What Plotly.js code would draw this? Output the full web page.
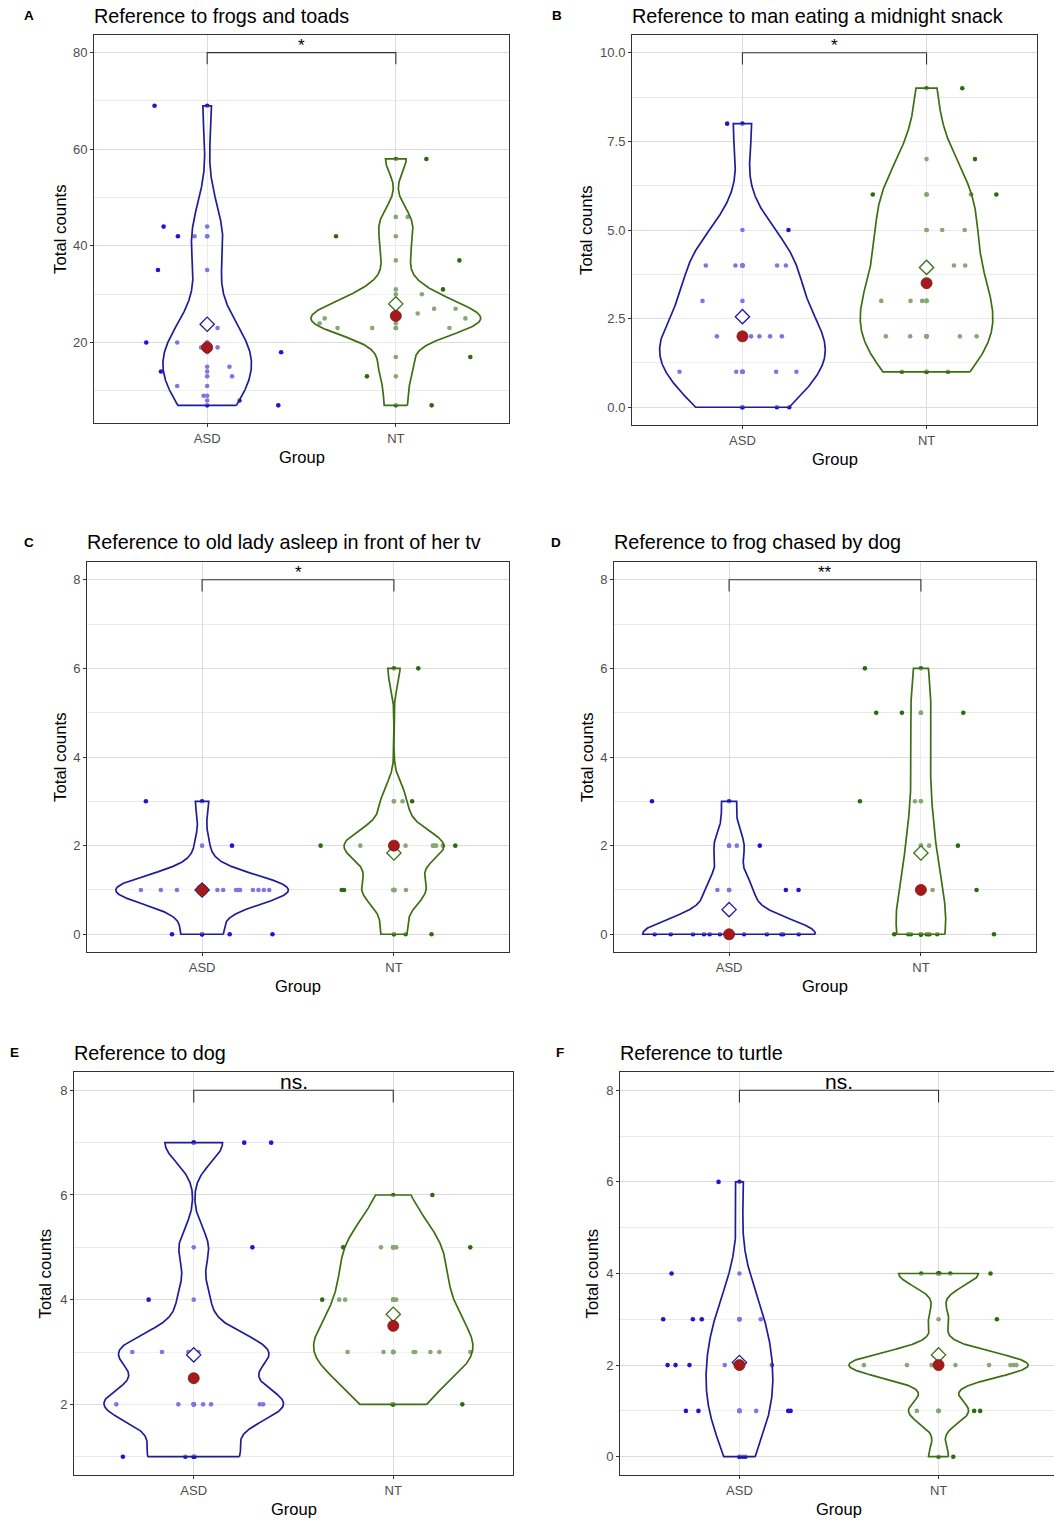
<!DOCTYPE html>
<html>
<head>
<meta charset="utf-8">
<script src="https://cdn.plot.ly/plotly-3.0.1.min.js"></script>
<style>
html,body{margin:0;padding:0;overflow:hidden;background:#ffffff;}
#chart{width:1060px;height:1520px;}
</style>
</head>
<body>
<div id="chart"></div>
<script>
// ---------------- DATA ----------------
const groups = ['ASD', 'NT'];
const panelTags = ['A', 'B', 'C', 'D', 'E', 'F'];
const panelTitles = [
  'Reference to frogs and toads',
  'Reference to man eating a midnight snack',
  'Reference to old lady asleep in front of her tv',
  'Reference to frog chased by dog',
  'Reference to dog',
  'Reference to turtle'
];
const sigLabels = ['*', '*', '*', '**', 'ns.', 'ns.'];
const bracketHeights = [80, 10, 8, 8, 8, 8];
const yTickSteps = [20, 2.5, 2, 2, 2, 2];

// Total counts per participant, and the horizontal jitter of each jittered point
const A_ASD = [69, 44, 42, 42, 35, 23, 20, 20, 19, 19, 18, 15, 14, 13, 11, 9, 8, 7];
const A_ASD_jitter = [-0.279, -0.231, -0.155, -0.067, -0.261, 0.055, -0.323, -0.159, -0.032, 0.055, 0.392, 0.118, -0.245, 0.132, -0.159, -0.019, 0.171, 0.377];
const A_NT = [58, 46, 42, 37, 31, 30, 27, 27, 26, 25, 25, 24, 23, 23, 23, 17, 13, 7];
const A_NT_jitter = [0.162, 0.063, -0.317, 0.337, 0.250, 0.138, 0.203, 0.317, 0.116, -0.377, 0.369, -0.404, -0.309, -0.125, 0.284, 0.395, -0.153, 0.190];

const B_ASD = [8, 5, 4, 4, 4, 4, 3, 2, 2, 2, 2, 2, 1, 1, 1, 1, 0, 0];
const B_ASD_jitter = [-0.083, 0.250, -0.199, -0.038, 0.188, 0.236, -0.217, -0.139, 0.047, 0.092, 0.150, 0.214, -0.342, -0.034, 0.183, 0.293, 0.187, 0.254];
const B_NT = [9, 7, 6, 6, 6, 5, 5, 4, 4, 3, 3, 3, 2, 2, 2, 2, 1, 1];
const B_NT_jitter = [0.194, 0.263, -0.292, 0.241, 0.379, 0.085, 0.207, 0.149, 0.210, -0.246, -0.087, -0.024, -0.221, -0.089, 0.181, 0.272, -0.134, 0.116];

const C_ASD = [3, 2, 1, 1, 1, 1, 1, 1, 1, 1, 1, 1, 1, 1, 1, 0, 0, 0];
const C_ASD_jitter = [-0.293, 0.156, -0.319, -0.215, -0.131, 0.004, 0.080, 0.110, 0.177, 0.188, 0.198, 0.265, 0.294, 0.322, 0.350, -0.157, 0.144, 0.367];
const C_NT = [6, 3, 3, 2, 2, 2, 2, 2, 2, 2, 2, 1, 1, 1, 1, 1, 0, 0];
const C_NT_jitter = [0.127, 0.045, 0.095, -0.382, -0.175, 0.061, 0.203, 0.212, 0.220, 0.255, 0.320, -0.272, -0.260, -0.004, 0.004, 0.063, 0.061, 0.196];

const D_ASD = [3, 2, 2, 1, 1, 1, 0, 0, 0, 0, 0, 0, 0, 0, 0, 0, 0, 0];
const D_ASD_jitter = [-0.402, 0.040, 0.160, -0.061, 0.296, 0.362, -0.388, -0.304, -0.188, -0.131, -0.101, -0.048, 0.003, 0.078, 0.197, 0.273, 0.282, 0.363];
const D_NT = [6, 5, 5, 5, 3, 3, 2, 2, 1, 1, 0, 0, 0, 0, 0, 0, 0, 0];
const D_NT_jitter = [-0.292, -0.233, -0.099, 0.221, -0.318, -0.031, 0.043, 0.193, 0.061, 0.290, -0.139, -0.066, -0.052, 0.030, 0.038, 0.045, 0.085, 0.381];

const E_ASD = [7, 7, 5, 4, 3, 3, 3, 3, 3, 2, 2, 2, 2, 2, 2, 1, 1, 1];
const E_ASD_jitter = [0.253, 0.388, 0.294, -0.226, -0.308, -0.159, -0.027, -0.012, 0.023, -0.388, -0.077, 0.047, 0.087, 0.331, 0.348, -0.355, -0.042, 0.004];
const E_NT = [6, 5, 5, 5, 5, 4, 4, 4, 4, 3, 3, 3, 3, 3, 3, 3, 2, 2];
const E_NT_jitter = [0.196, -0.251, -0.062, 0.015, 0.386, -0.356, -0.271, -0.241, 0.015, -0.229, -0.049, 0.102, 0.110, 0.186, 0.231, 0.386, 0.346, -0.004];

const F_ASD = [6, 4, 3, 3, 3, 3, 2, 2, 2, 2, 2, 1, 1, 1, 1, 1, 0, 0];
const F_ASD_jitter = [-0.105, -0.341, -0.383, -0.234, -0.189, 0.107, -0.361, -0.321, -0.251, -0.074, 0.162, -0.269, -0.206, 0.084, 0.245, 0.257, 0.017, 0.030];
const F_NT = [4, 4, 4, 4, 3, 2, 2, 2, 2, 2, 2, 2, 2, 2, 1, 1, 1, 0];
const F_NT_jitter = [-0.087, 0.004, 0.059, 0.261, 0.293, -0.375, -0.159, -0.035, 0.004, 0.085, 0.254, 0.361, 0.378, 0.391, -0.109, 0.179, 0.209, 0.074];

const panelValues = [[A_ASD, A_NT], [B_ASD, B_NT], [C_ASD, C_NT], [D_ASD, D_NT], [E_ASD, E_NT], [F_ASD, F_NT]];
const panelJitter = [[A_ASD_jitter, A_NT_jitter], [B_ASD_jitter, B_NT_jitter], [C_ASD_jitter, C_NT_jitter],
                     [D_ASD_jitter, D_NT_jitter], [E_ASD_jitter, E_NT_jitter], [F_ASD_jitter, F_NT_jitter]];

// ---------------- STYLE / LAYOUT ----------------
const W = 1060, H = 1520;
const FONT = 'Liberation Sans, Arial, Helvetica, sans-serif';
// plot boxes in px: [left, right, top, bottom]
const boxes = [[94, 509, 35, 423], [632, 1037, 35, 425], [87, 509, 562, 952],
               [614, 1036, 562, 952], [74, 513, 1072, 1475], [620, 1058, 1072, 1475]];
const tagX = [29, 557, 29, 556, 14, 560];
const yTitleX = [60, 587, 60, 587, 45, 592];
const pointColors = ['#2612D2', '#2E6A10'];
const outlineColors = ['#1F1C98', '#3C6E12'];
const medianColor = '#A51B1B';
const majorGrid = '#DCDCDC', minorGrid = '#E9E9E9';

// ---------------- helpers ----------------
function quantile7(s, p) {
  const h = (s.length - 1) * p, lo = Math.floor(h), hi = Math.ceil(h);
  return s[lo] + (h - lo) * (s[hi] - s[lo]);
}
function bwNrd0(x) {
  const n = x.length, m = x.reduce((a, b) => a + b, 0) / n;
  const sd = Math.sqrt(x.reduce((a, b) => a + (b - m) * (b - m), 0) / (n - 1));
  const s = [...x].sort((a, b) => a - b);
  const iqr = quantile7(s, 0.75) - quantile7(s, 0.25);
  let lo = Math.min(sd, iqr / 1.34);
  if (!(lo > 0)) lo = sd || Math.abs(s[0]) || 1;
  return 0.9 * lo * Math.pow(n, -0.2);
}
function kde(x, bw, ys) {
  const c = 1 / (x.length * bw * Math.sqrt(2 * Math.PI));
  return ys.map(y => c * x.reduce((a, xi) => a + Math.exp(-0.5 * Math.pow((y - xi) / bw, 2)), 0));
}
function mean(v) { return v.reduce((a, b) => a + b, 0) / v.length; }
function median(v) { const s = [...v].sort((a, b) => a - b); return quantile7(s, 0.5); }

const traces = [];
const layout = {
  width: W, height: H, margin: {l: 0, r: 0, t: 0, b: 0},
  paper_bgcolor: '#ffffff', plot_bgcolor: '#ffffff',
  showlegend: false, font: {family: FONT, color: '#000000'},
  annotations: [], shapes: []
};

panelValues.forEach((vals, i) => {
  const sfx = i === 0 ? '' : String(i + 1);
  const xa = 'x' + sfx, ya = 'y' + sfx;
  const [L, R, T, B] = boxes[i];
  const allMin = Math.min(...vals.map(v => Math.min(...v)));
  const br = bracketHeights[i];
  const span = br - allMin;
  const yr = [allMin - 0.05 * span, br + 0.05 * span];

  // densities (ggplot2 style: bw.nrd0, trimmed, scale = "area")
  const dens = vals.map(v => {
    const lo = Math.min(...v), hi = Math.max(...v);
    const ys = [];
    for (let k = 0; k < 512; k++) ys.push(lo + (hi - lo) * k / 511);
    return {ys: ys, d: kde(v, bwNrd0(v), ys)};
  });
  const dmax = Math.max(...dens.map(o => Math.max(...o.d)));

  // jittered points
  vals.forEach((v, g) => {
    traces.push({type: 'scatter', mode: 'markers', xaxis: xa, yaxis: ya,
      x: v.map((_, k) => g + 1 + panelJitter[i][g][k]), y: v,
      marker: {size: 4.6, color: pointColors[g], line: {width: 0}},
      hoverinfo: 'skip', showlegend: false, name: groups[g]});
  });
  // same points on the group centre line
  vals.forEach((v, g) => {
    traces.push({type: 'scatter', mode: 'markers', xaxis: xa, yaxis: ya,
      x: v.map(() => g + 1), y: v,
      marker: {size: 4.6, color: pointColors[g], line: {width: 0}},
      hoverinfo: 'skip', showlegend: false, name: groups[g]});
  });
  // violins (semi-transparent white fill over the points)
  dens.forEach((o, g) => {
    const hw = o.d.map(d => 0.45 * d / dmax);
    const xs = hw.map(h => g + 1 + h).concat(hw.slice().reverse().map(h => g + 1 - h));
    const ys = o.ys.concat(o.ys.slice().reverse());
    xs.push(xs[0]); ys.push(ys[0]);
    traces.push({type: 'scatter', mode: 'lines', xaxis: xa, yaxis: ya, x: xs, y: ys,
      fill: 'toself', fillcolor: 'rgba(255,255,255,0.42)',
      line: {color: outlineColors[g], width: 1.7, shape: 'linear'},
      hoverinfo: 'skip', showlegend: false});
  });
  // means (open diamonds)
  vals.forEach((v, g) => {
    traces.push({type: 'scatter', mode: 'markers', xaxis: xa, yaxis: ya,
      x: [g + 1], y: [mean(v)],
      marker: {symbol: 'diamond', size: 11, color: '#ffffff', line: {color: outlineColors[g], width: 1.3}},
      hoverinfo: 'skip', showlegend: false});
  });
  // medians (red dots)
  vals.forEach((v, g) => {
    traces.push({type: 'scatter', mode: 'markers', xaxis: xa, yaxis: ya,
      x: [g + 1], y: [median(v)],
      marker: {symbol: 'circle', size: 11, color: medianColor, line: {color: '#7E1212', width: 0.8}},
      hoverinfo: 'skip', showlegend: false});
  });

  const step = yTickSteps[i];
  layout['xaxis' + sfx] = {
    domain: [L / W, R / W], range: [0.4, 2.6], anchor: ya,
    tickmode: 'array', tickvals: [1, 2], ticktext: groups,
    showgrid: true, gridcolor: majorGrid, gridwidth: 1, zeroline: false,
    showline: true, mirror: true, linecolor: '#333333', linewidth: 1,
    ticks: 'outside', ticklen: 3, tickcolor: '#333333',
    tickfont: {family: FONT, size: 13, color: '#4D4D4D'}, fixedrange: true
  };
  layout['yaxis' + sfx] = {
    domain: [1 - B / H, 1 - T / H], range: yr, anchor: xa,
    tickmode: 'linear', tick0: 0, dtick: step, tickformat: step === 2.5 ? '.1f' : '',
    minor: {tick0: 0, dtick: step / 2, showgrid: true, gridcolor: minorGrid, gridwidth: 1, ticks: ''},
    showgrid: true, gridcolor: majorGrid, gridwidth: 1, zeroline: false,
    showline: true, mirror: true, linecolor: '#333333', linewidth: 1,
    ticks: 'outside', ticklen: 3, tickcolor: '#333333',
    tickfont: {family: FONT, size: 13, color: '#4D4D4D'}, fixedrange: true
  };

  // significance bracket
  const tip = 0.03 * (yr[1] - yr[0]);
  layout.shapes.push({type: 'path', xref: xa, yref: ya,
    path: `M 1,${br - tip} L 1,${br} L 2,${br} L 2,${br - tip}`,
    line: {color: '#333333', width: 1.1}});
  const isNs = sigLabels[i] === 'ns.';
  layout.annotations.push({xref: xa, yref: ya, x: 1.5, y: br, text: sigLabels[i],
    showarrow: false, xanchor: 'center', yanchor: 'bottom', yshift: isNs ? -5 : -4,
    font: {family: FONT, size: isNs ? 21 : 17, color: '#000000'}});

  // tag, title, axis titles
  layout.annotations.push({xref: 'paper', yref: 'paper', x: tagX[i] / W, y: 1 - (T - 19.5) / H,
    text: '<b>' + panelTags[i] + '</b>', showarrow: false, xanchor: 'center', yanchor: 'middle',
    font: {family: FONT, size: 13.5, color: '#000000'}});
  layout.annotations.push({xref: 'paper', yref: 'paper', x: (L - 2) / W, y: 1 - (T - 19.5) / H,
    text: panelTitles[i], showarrow: false, xanchor: 'left', yanchor: 'middle',
    font: {family: FONT, size: 19.8, color: '#000000'}});
  layout.annotations.push({xref: 'paper', yref: 'paper', x: yTitleX[i] / W, y: 1 - ((T + B) / 2) / H,
    text: 'Total counts', textangle: -90, showarrow: false, xanchor: 'center', yanchor: 'middle',
    font: {family: FONT, size: 16.8, color: '#000000'}});
  layout.annotations.push({xref: 'paper', yref: 'paper', x: ((L + R) / 2) / W, y: 1 - (B + 34) / H,
    text: 'Group', showarrow: false, xanchor: 'center', yanchor: 'middle',
    font: {family: FONT, size: 16.5, color: '#000000'}});
});

Plotly.newPlot('chart', traces, layout, {staticPlot: true, displayModeBar: false});
</script>
</body>
</html>
